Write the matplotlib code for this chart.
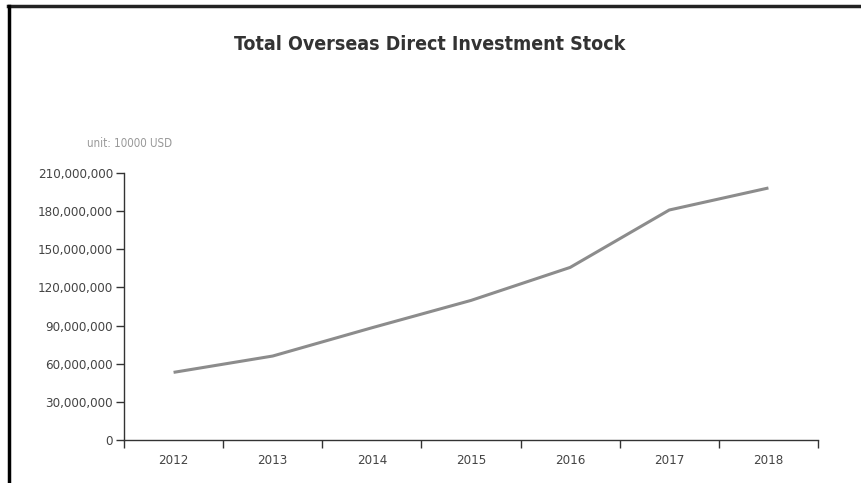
import matplotlib.pyplot as plt
from matplotlib.lines import Line2D
from matplotlib.ticker import FuncFormatter
import numpy as np

years = ['2012', '2013', '2014', '2015', '2016', '2017', '2018']
stock = [53194000, 66048000, 88264000, 109786000, 135739000, 180904000, 198227000]
yticks = [0, 30000000, 60000000, 90000000, 120000000, 150000000, 180000000, 210000000]

plt.rcParams['font.family'] = ['DejaVu Sans']
plt.rcParams['font.stretch'] = 'condensed'

fig = plt.figure(figsize=(8.61, 4.83), dpi=100)
ax = fig.add_axes([124/861, 1-440/483, 694/861, 267/483])

x = np.arange(len(years))
ax.plot(x, stock, color='#8c8c8c', lw=2.2, solid_capstyle='butt')

ax.set_xlim(-0.5, len(years)-0.5)
ax.set_ylim(0, 210000000)
ax.set_yticks(yticks)
ax.yaxis.set_major_formatter(FuncFormatter(lambda v, p: f'{int(v):,}'))

# ticks between categories, labels at centres
ax.set_xticks(np.arange(len(years)+1) - 0.5)
ax.set_xticklabels([])
ax.set_xticks(x, minor=True)
ax.set_xticklabels(years, minor=True)
ax.tick_params(axis='x', which='major', length=6, width=1, color='#333333')
ax.tick_params(axis='x', which='minor', length=0, pad=10, labelsize=9.5, labelcolor='#444444')
ax.tick_params(axis='y', length=6, width=1, color='#333333', labelsize=9.5, labelcolor='#444444', pad=2)

for s in ['top', 'right']:
    ax.spines[s].set_visible(False)
for s in ['left', 'bottom']:
    ax.spines[s].set_color('#333333')
    ax.spines[s].set_linewidth(1)

fig.text(430/861, 1-45/483, 'Total Overseas Direct Investment Stock', ha='center', va='center',
         fontsize=14, fontweight='bold', color='#333333')
fig.text(130/861, 1-143/483, 'unit: 10000 USD', ha='center', va='center', fontsize=8.3, color='#999999')

# page border
fig.add_artist(Line2D([8/861, 1], [1-6/483, 1-6/483], color='#222222', lw=2.5))
fig.add_artist(Line2D([9/861, 9/861], [0, 1-6/483], color='black', lw=2.5))

fig.savefig('out.png', dpi=100)
